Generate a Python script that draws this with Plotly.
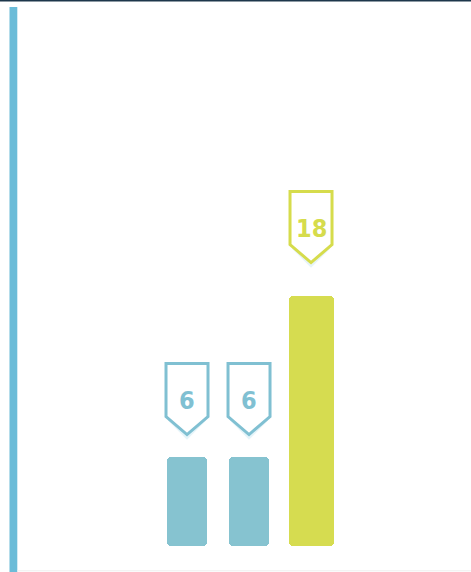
import plotly.graph_objects as go

categories = ["A", "B", "C"]
values = [6, 6, 18]
bar_colors = ["#86c3d0", "#86c3d0", "#d6dc50"]
label_colors = ["#80c0d2", "#80c0d2", "#d6dc4c"]
bar_widths = [0.645, 0.645, 0.726]

xpos = list(range(len(categories)))
BASE = -0.634          # bars start slightly below the zero line (as in the reference)
LABEL_PAD = 1.068      # label anchored proportionally above each bar

fig = go.Figure()
fig.add_trace(go.Bar(
    x=xpos, y=[v - BASE for v in values], base=BASE, width=bar_widths,
    marker=dict(color=bar_colors, line=dict(width=0), cornerradius=4),
    hoverinfo="skip", showlegend=False,
))

hw = 21
top, side, tip = 88, 35, 17
shield = f"M {-hw},{top} L {hw},{top} L {hw},{side} L 0,{tip} L {-hw},{side} Z"
shadow = f"M {-hw+3},{side-3} L 0,{tip-3} L {hw-3},{side-3}"
for x, v, c in zip(xpos, values, label_colors):
    ya = v * LABEL_PAD
    fig.add_shape(type="path", xref="x", yref="y", xsizemode="pixel", ysizemode="pixel",
                  xanchor=x, yanchor=ya, path=shadow,
                  line=dict(color="rgba(130,200,225,0.2)", width=3))
    fig.add_shape(type="path", xref="x", yref="y", xsizemode="pixel", ysizemode="pixel",
                  xanchor=x, yanchor=ya, path=shield,
                  fillcolor="white", line=dict(color=c, width=3))
    fig.add_annotation(x=x, y=ya, text=f"<b>{v}</b>", showarrow=False, yshift=51.5,
                       font=dict(family="DejaVu Sans Condensed, DejaVu Sans, sans-serif",
                                 size=25, color=c))

fig.add_shape(type="rect", xref="paper", yref="paper", x0=0, x1=1, y0=1 - 1.6/572, y1=1,
              fillcolor="#1d374b", line=dict(width=0), layer="above")
fig.add_shape(type="rect", xref="paper", yref="paper", x0=9.5/471, x1=17.3/471, y0=0, y1=1 - 7/572,
              fillcolor="#6bbcd8", line=dict(width=0))
fig.add_shape(type="line", xref="paper", yref="paper", x0=17.3/471, x1=1, y0=1.2/572, y1=1.2/572,
              line=dict(color="#eeeeee", width=1))

# y scale: 0 at 537.5 px from top, 13.417 px per unit
s = 161 / 12
fig.update_layout(
    width=471, height=572,
    margin=dict(l=0, r=0, t=0, b=0),
    paper_bgcolor="white", plot_bgcolor="white",
    xaxis=dict(range=[-3.016, 4.58], visible=False, fixedrange=True),
    yaxis=dict(range=[-(572 - 537.5) / s, 537.5 / s], visible=False, fixedrange=True),
    bargap=0,
)
fig.write_html("out.html", config={"displayModeBar": False},
               post_script="document.body.style.margin='0';document.body.style.overflow='hidden';")
